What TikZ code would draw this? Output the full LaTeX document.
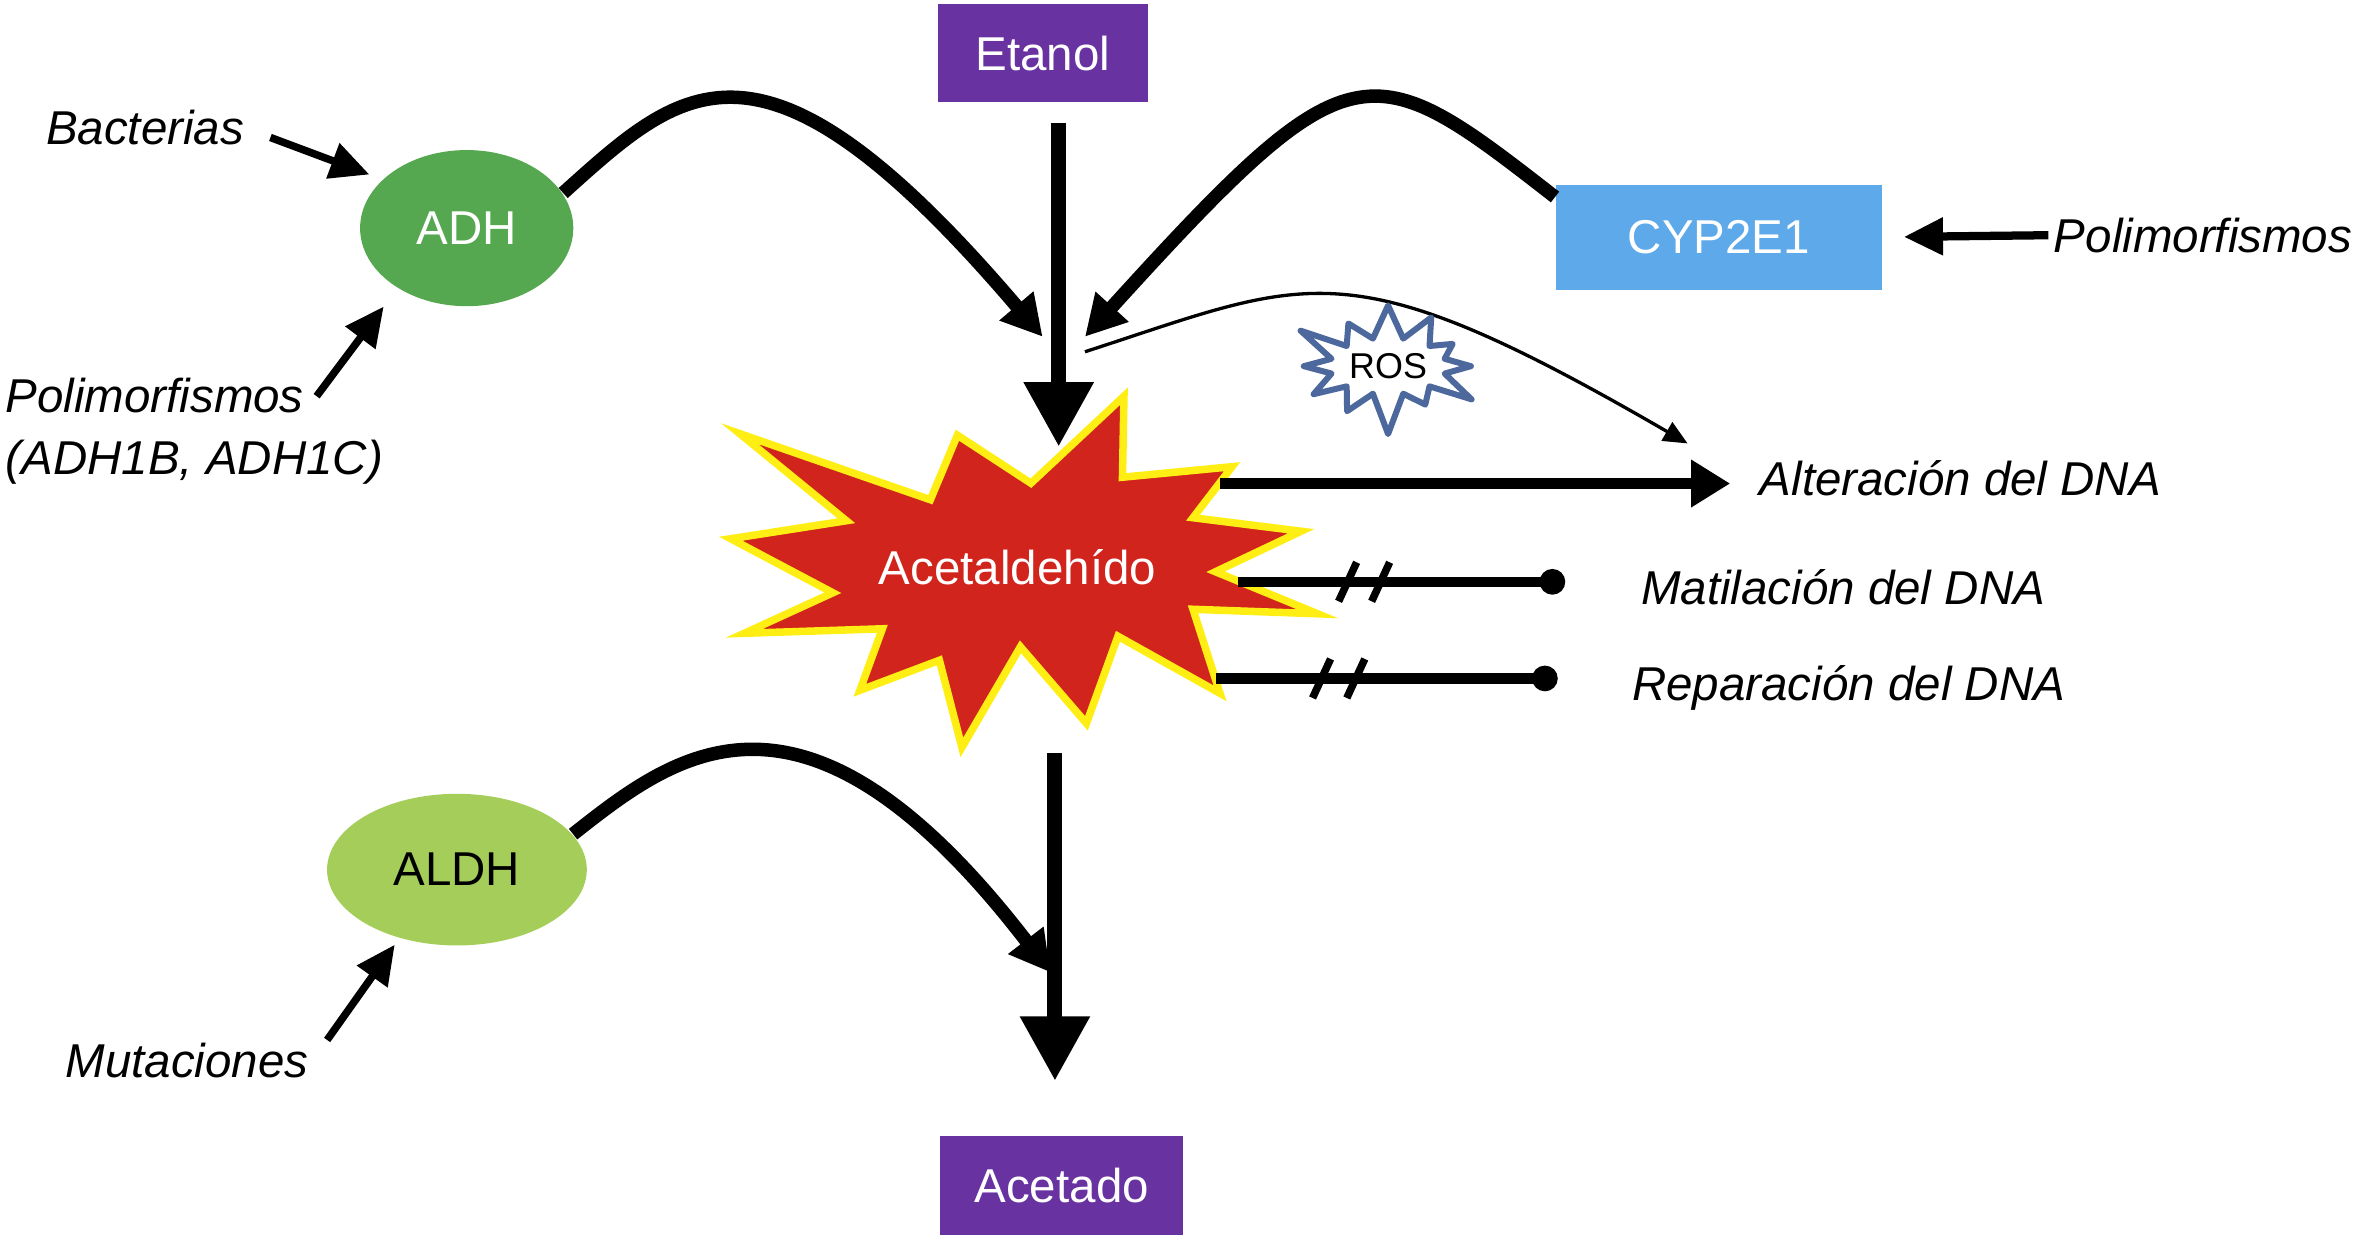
\documentclass[tikz,border=0pt]{standalone}
\usepackage{fontspec}
\setmainfont{Liberation Sans}
\usepackage{tikz}
\usetikzlibrary{arrows.meta,positioning,shapes.geometric,shapes.symbols}
\definecolor{substviolet}{RGB}{104,50,160}
\definecolor{adhgreen}{RGB}{86,168,80}
\definecolor{aldhgreen}{RGB}{164,206,89}
\definecolor{cypblue}{RGB}{94,169,233}
\definecolor{burstred}{RGB}{208,36,28}
\definecolor{burstyellow}{RGB}{255,238,20}
\definecolor{rosblue}{RGB}{76,104,156}
\newcommand{\labelsize}{\fontsize{9}{11.75}\selectfont}
\tikzset{
  subst box/.style={rectangle, fill=substviolet, text=white,
    font=\labelsize, inner sep=0pt},
  enzyme oval/.style={ellipse, font=\labelsize, inner sep=0pt},
  factor label/.style={font=\labelsize\itshape, inner sep=0pt, anchor=base west},
  main flow/.style={line width=0.1cm, -{Triangle[width=0.44cm,length=0.43cm]}},
  enzyme flow/.style={line width=0.09cm, -{Triangle[width=0.28cm,length=0.27cm]}},
  factor arrow/.style={line width=0.05cm, -{Triangle[width=0.24cm,length=0.26cm]}},
  effect arrow/.style={line width=0.07cm, -{Triangle[width=0.3cm,length=0.26cm]}},
  block line/.style={line width=0.07cm, -{Circle[length=0.17cm]}},
  slash mark/.style={line width=0.05cm},
  ros flow/.style={line width=0.022cm, -{Triangle[width=0.14cm,length=0.16cm]}},
  burst/.style={fill=burstred, draw=burstyellow, line width=0.05cm},
  ros burst/.style={starburst, starburst points=12, starburst point height=0.3cm,
    draw=rosblue, line width=0.04cm, fill=white, line join=round,
    font=\fontsize{6.8}{7.5}\selectfont,
    minimum width=1.38cm, minimum height=0.98cm, inner sep=0pt}
}
\begin{document}
\begin{tikzpicture}[x=0.01cm, y=-0.01cm]
  \useasboundingbox (0,0) rectangle (1568,835.6);

  % Sustratos y enzimas
  \node[subst box, minimum width=1.40cm, minimum height=0.65cm] (etanol) at (695,35.5) {Etanol};
  \node[subst box, minimum width=1.62cm, minimum height=0.66cm] (acetado) at (707.5,790) {Acetado};
  \node[enzyme oval, fill=adhgreen, text=white, minimum width=1.42cm, minimum height=1.04cm] (adh) at (311,152) {ADH};
  \node[enzyme oval, fill=aldhgreen, minimum width=1.73cm, minimum height=1.01cm] (aldh) at (304.5,579.5) {ALDH};
  \node[rectangle, fill=cypblue, text=white, font=\labelsize, inner sep=0pt,
    minimum width=2.17cm, minimum height=0.70cm] (cyp) at (1145.5,158) {CYP2E1};

  % Acetaldehido
  \draw[burst] (493,289) -- (620,333) -- (638,290) -- (687,322) -- (749,264)
    -- (748,318) -- (821,311) -- (795,345) -- (867,354) -- (810,381)
    -- (878,409) -- (795,406) -- (813,462) -- (745,424) -- (724,482)
    -- (680,431) -- (641,498) -- (626,440) -- (573,460) -- (588,419)
    -- (496,422) -- (555,395) -- (487,359) -- (564,347) -- cycle;
  \node[font=\labelsize, text=white, inner sep=0pt] (acet) at (678,378) {Acetaldehído};

  % Factores
  \node[factor label] (bact) at (30,96.6) {Bacterias};
  \node[font=\labelsize\itshape, inner sep=0pt, align=left, anchor=north west] (polyadh) at (3,251) {Polimorfismos\\(ADH1B, ADH1C)};
  \node[factor label] (mut) at (43,718) {Mutaciones};
  \node[factor label] (polycyp) at (1368,168) {Polimorfismos};
  \node[factor label] (alter) at (1172,330) {Alteración del DNA};
  \node[factor label] (metil) at (1093,403) {Matilación del DNA};
  \node[factor label] (repar) at (1087,466.5) {Reparación del DNA};

  \coordinate (acettop) at (705.5,297.7);
  \coordinate (acetbot) at (703,502);
  \coordinate (meetadh) at (694.8,224.4);
  \coordinate (meetcyp) at (723,224.4);
  \coordinate (meetaldh) at (700,648);
  \coordinate (rosstart) at (723,234.4);
  \coordinate (rosend) at (1124.6,295.5);
  \coordinate (pa0) at (211,264);
  \coordinate (mut0) at (218,693);
  \coordinate (alt0) at (813,322.2);
  \coordinate (met0) at (825,387.7);
  \coordinate (met1) at (1043,387.7);
  \coordinate (rep0) at (810,452.1);
  \coordinate (rep1) at (1038,452.1);

  % Flujo principal
  \draw[main flow, shorten <=0.13cm] (etanol.south -| acettop) -- (acettop);
  \draw[main flow, shorten >=0.36cm] (acetbot) -- (acetado.north -| acetbot);
  \draw[enzyme flow] (adh.20) .. controls (454.7,57.3) and (507.6,4.7) .. (meetadh);
  \draw[enzyme flow] ([yshift=-0.09cm]cyp.north west) .. controls (912,34.5) and (901,28.2) .. (meetcyp);
  \draw[enzyme flow] (aldh.17) .. controls (449,503) and (535.3,433.9) .. (meetaldh);
  \draw[ros flow] (rosstart) .. controls (874.2,185.4) and (896.6,163.3) .. (rosend);
  \node[ros burst] (ros) at (925,244) {ROS};

  \draw[factor arrow, shorten <=0.18cm, shorten >=0.09cm] (bact.east) -- (adh.150);
  \draw[factor arrow, shorten >=0.15cm] (pa0) -- (adh.221);
  \draw[factor arrow, shorten >=0.05cm] (mut0) -- (aldh.230);
  \draw[factor arrow, line width=0.055cm, shorten <=0.03cm, shorten >=0.14cm] (polycyp.west) -- (cyp.east);

  % Efectos
  \draw[effect arrow, shorten >=0.19cm] (alt0) -- (alter.west |- alt0);
  \draw[block line] (met0) -- (met1);
  \draw[block line] (rep0) -- (rep1);
  \path (met0) -- (met1) coordinate[pos=0.335] (ms1) coordinate[pos=0.436] (ms2);
  \path (rep0) -- (rep1) coordinate[pos=0.31] (rs1) coordinate[pos=0.41] (rs2);
  \foreach \s in {ms1,ms2,rs1,rs2}
    \draw[slash mark] ([shift={(-6,13)}]\s) -- ([shift={(6,-13)}]\s);
\end{tikzpicture}
\end{document}
